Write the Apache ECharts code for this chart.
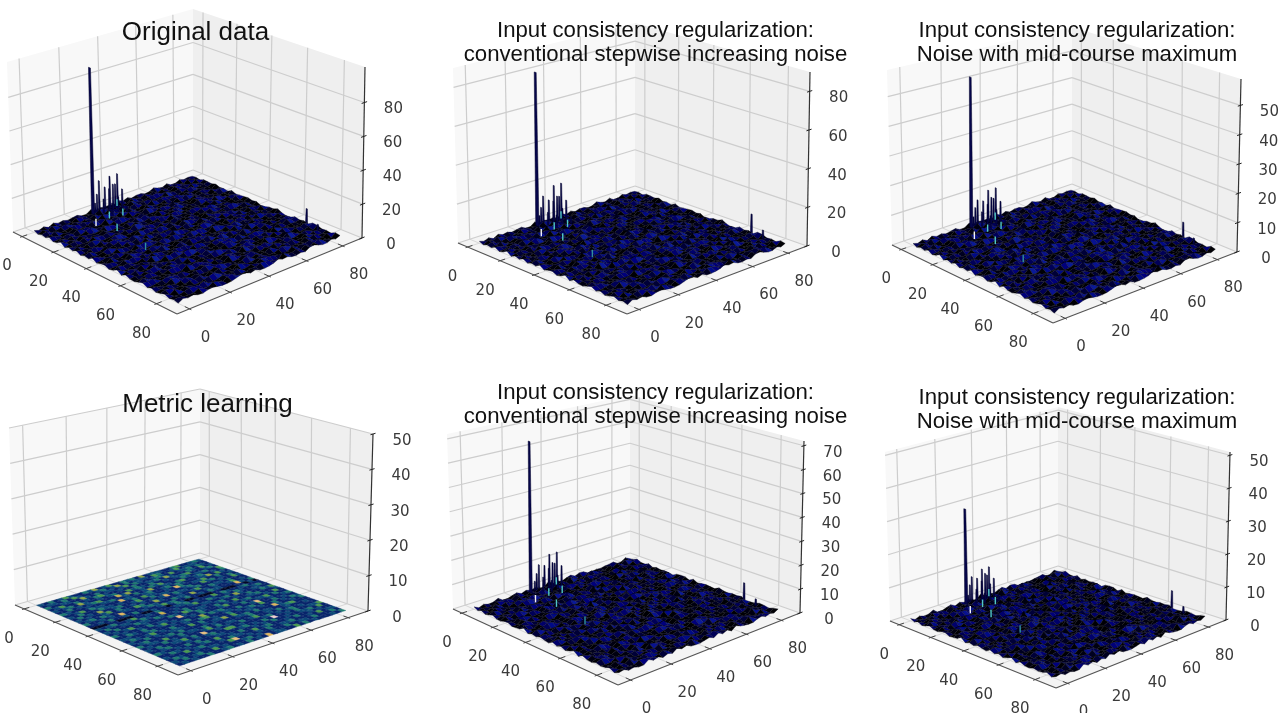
<!DOCTYPE html>
<html><head><meta charset="utf-8">
<style>html,body{margin:0;background:#fff}#main{width:1278px;height:713px;filter:blur(.6px)}</style>
<script src="https://cdn.jsdelivr.net/npm/echarts@6/dist/echarts.min.js"></script>
</head><body><div id="main"></div>
<script>
const xTicks=[0,20,40,60,80];
const yTicks=[0,20,40,60,80];
const zTicks1=[0,20,40,60,80];
const zTicks2=[0,20,40,60,80];
const zTicks3=[0,10,20,30,40,50];
const zTicks4=[0,10,20,30,40,50];
const zTicks5=[0,10,20,30,40,50,60,70];
const zTicks6=[0,10,20,30,40,50];
const zMax=[101,90,59,50,72,51];
const titles=['Original data','Input consistency regularization:\nconventional stepwise increasing noise','Input consistency regularization:\nNoise with mid-course maximum','Metric learning','Input consistency regularization:\nconventional stepwise increasing noise','Input consistency regularization:\nNoise with mid-course maximum'];
// surface heights, read as levels on an 85 x 85 field (rows = x, columns = y)
const surfaceTop=[
'415062413500714230615144027316005243','052731006423185042007316250413620514',
'360148250317006425193004561207341062','127004635210847001362450019425307316',
'540316002745130628004173652001480235','003527461008352064117300425716023104',
'261400593120476003285014006372145007','714053201864002537100462831005240613',
'035260417003152849006214730056120384','402108536241007315620048013275406012',
'160375002514398001462570023104186027','523016048700214635009312465001720453',
'004612573100846205137004026593100264','371050264395001472806153002741460105',
'120483015260734001529640071203584016','650207431008125460037018246350002713',
'014362008574130296400125370648021305','307105246001483750012694003152706420',
'452018630472501003867214005136024071','001746250139006243150087320461500324',
'263500417520038164702100549230176004','710324096103645002381460172005403618',
'045162300748210573004926301854002163','526007341002695130476001283047150240',
'130458016372004810265739000416203571','004613275006143920058102467300152846',
'381200564710032486100375142609400213','657023100846251003724580013062741005',
'102475360014703165209430086215004372','430186002537410086032154700329600148',
'015304726100584201647003152480036207','264001538072600314905127204360071533',
'507142003694120750036210483001726104','120365480015237004186530007243510062',
'341006217405800132764009325160482007','063510342001476250013845102067300415'];
const surfaceBottom=[
'504127003615240081304726500213460172','130064528003172460519200374105062843',
'402715006132480073100526431006142057','016300472584100235647001360258014203',
'273140058602317004051283460017306452','500426310047185302004673100852041136',
'134007265301004826137005420163728001','061582403170236004519200371450026314',
'320004617528001463002746150307184502','415730126003594102380016524700261043',
'007261045380012673504100836215400172','146300572104836005120473006234501780',
'253014006427150938004126570031462005','700582314006235014706390142500318426',
'012476003165004721530068412003574106','384100526730148002653100457206013842',
'105263407002591346004280173650024107','460017352814006205731400628103475002',
'231504006372010458160237004519200364','006143725004368102500741263810047215',
'572300148160253407008315400726035104','103465002718004532096100473205186403',
'420076135002641703185400362071504128','051237406501382004610753200148362005',
'306100572483001264730095142006135074','714052301062745810003264170580230416',
'002386140570320146907001352461008235','523140076243001584316200700413526017',
'160407253108640025370184603125004372','048215006731250403100697240016381502',
'375001428060317526001402853170460213','100642350186402003751260034582017306',
'216073104528003674100513620470018245','504280367001145006328047105236400713',
'032116540372600281054730016208345106','461300725041836100240615073100462538'];
const surfaceMetric=[
'213124211325124113231512221134112321','122131421112312513122214311241222113',
'311221152131221241321123214122313212','124113121342112113112231521113214121',
'212315211212311423213112122341112312',
'113121234111625112132411113212231141','321112112231121312511221341123112132',
'112413221117221123112313211122514211','213111322121131422112173112241131122',
'131215112311241131221112311423121312','212112413112121212713221231111211423',
'123132112214311521112112411322131112','311212171111232111322151121211241213',
'112131121312112423113112132211172131','000110001100211013200100011000110201',
'212311241121311122312111413211231112','131122113211611211241132112132112311',
'213111322132112131112211231521122113','121241121111321431221123112113113242',
'312112131221182113211312141122311121','113213112412111213111241212311121413',
'221112311121231151323111131122413112','132124121311211341112213112811211231',
'211312112221413112113121231411312112','123111231311112122514112212113121321',
'312214113122131211112231311172112131','121131212111241312211131122112341112',
'213112241318112121131241121312111212','112311121212311441211112312123121113',
'321121313111221112312131911213112241','113212112314112131121213112112231412',
'211141231112132211412311121311212113','132112112211481121213112231112141221',
'213123114121112312112113112213111312','121211311231213121712211413121112131',
'112131221113121211231121312181211232'];
const noiseUnit=[.26,.25,.165,.02,.2,.15];
// sharp spikes: x, y, height (the tall spike is the last of each list)
const peaks1=[[3,29,7],[6,31,10],[9,33,8],[2,32,19],[6,34,15],[3,30,12],[8,37,10],[4,36,21],[5,38,16],[4,40,21],[7,40,13],[6,36,17],[11,39,5],[2,35,14],[68,84,10],[76,82,5],[4,27,90]];
const peaks2=[[3,29,6],[6,31,8],[9,33,7],[2,32,15],[6,34,13],[3,30,10],[8,37,9],[4,36,20],[5,38,14],[4,40,20],[7,40,12],[6,36,15],[11,39,5],[2,35,12],[68,84,11],[76,82,6],[4,27,82]];
const peaks3=[[3,29,4],[6,31,6],[9,33,5],[2,32,9],[6,34,8],[3,30,7],[8,37,6],[4,36,12],[5,38,9],[4,40,12],[7,40,8],[6,36,10],[11,39,3],[2,35,8],[68,84,6],[76,82,3],[4,27,53]];
const peaks5=[[3,29,5],[6,31,7],[9,33,6],[2,32,11],[6,34,10],[3,30,8],[8,37,7],[4,36,15],[5,38,11],[4,40,15],[7,40,10],[6,36,12],[11,39,4],[2,35,10],[68,84,8],[76,82,4],[4,26,65]];
const peaks6=[[3,29,3],[6,31,5],[9,33,4],[2,32,8],[6,34,7],[3,30,6],[8,37,6],[4,36,10],[5,38,8],[4,40,10],[7,40,7],[6,36,9],[11,39,3],[2,35,7],[68,84,6],[76,82,3],[4,27,30]];
const fleckSpots=[[15.6,19],[13.6,27.6],[25,22],[6,38],[15,33.5],[46,18.5]];
const fleckColors=['#f4f4f4','#4fc8c8','#4fc8c8','#4fc8c8','#4fc8c8','#2f8f9f'];
const fleckTop=[3,2.7,1.8,0,2.2,1.6];
const darkPalette=['#000004','#000010','#000020','#000038','#000058','#00006c','#00007c','#000a88','#081290','#0a1a98'];
const metricPalette=['#020824','#07246a','#0d4a78','#1f7a70','#4a9a50','#90a848','#c8b050','#e0b860','#e8c080','#f0d0d0'];
// panel frames on the page: floor corners then top corners, left/bottom/right/back
const floors=[
[[13,232],[177,314],[362,238],[193,170]],[[458,243],[627,314],[807,246],[635,186]],[[892,245],[1053,323],[1237,252],[1072,184]],
[[15,605],[178,675],[368,611],[200,553]],[[453,609],[618,685],[800,613],[630,553]],[[890,621],[1056,688],[1226,620],[1058,566]]];
const tops=[
[[7,62],[176,127],[365,67],[193,9]],[[453,68],[626,127],[810,72],[635,23]],[[887,70],[1052,136],[1241,79],[1072,27]],
[[9,428],[177,490],[373,434],[200,389]],[[447,434],[617,498],[804,441],[630,395]],[[885,452],[1055,508],[1230,452],[1058,407]]];
const titlePos=[[190.5,16,26],[650.5,14,22.2],[1072,14,22.2],[202.5,388,26],[650.5,376,22.2],[1072,381,22.2]];
const axisLo=-6,axisHi=91,fieldSize=85;
const FONT='"Liberation Sans",Arial,sans-serif',TICK='"DejaVu Sans",sans-serif';

function quadMap(q){
  const [[x0,y0],[x1,y1],[x2,y2],[x3,y3]]=q;
  const dx1=x1-x2,dx2=x3-x2,sx=x0-x1+x2-x3,dy1=y1-y2,dy2=y3-y2,sy=y0-y1+y2-y3;
  const den=dx1*dy2-dx2*dy1,g=(sx*dy2-dx2*sy)/den,h=(dx1*sy-sx*dy1)/den;
  const a=x1-x0+g*x1,b=x3-x0+h*x3,d=y1-y0+g*y1,e=y3-y0+h*y3;
  return (s,t)=>{const w=g*s+h*t+1;return [(a*s+b*t+x0)/w,(d*s+e*t+y0)/w];};
}
function makeProjector(p){
  const f=quadMap(floors[p]),u=quadMap(tops[p]),span=axisHi-axisLo;
  return (x,y,z)=>{
    const s=(x-axisLo)/span,t=(y-axisLo)/span,k=z/zMax[p],A=f(s,t),B=u(s,t);
    return [A[0]+(B[0]-A[0])*k,A[1]+(B[1]-A[1])*k];
  };
}
const zTickSets=[zTicks1,zTicks2,zTicks3,zTicks4,zTicks5,zTicks6];
const surfaces=[surfaceTop,surfaceTop,surfaceTop,surfaceMetric,surfaceBottom,surfaceBottom];
const peakSets=[peaks1,peaks2,peaks3,[],peaks5,peaks6];
const series=[];
for(let p=0;p<6;p++){
  const P=makeProjector(p),zm=zMax[p],lo=axisLo,hi=axisHi,items=[];
  const C=(api,q)=>api.coord(q);
  const poly=(pts,fill)=>({kind:'poly',pts,fill});
  const line=(a,b,color,w)=>({kind:'line',a,b,color,w});
  const text=(at,dx,dy,s)=>({kind:'text',at,dx,dy,s});
  items.push(poly([P(lo,lo,0),P(hi,lo,0),P(hi,hi,0),P(lo,hi,0)],'#f4f4f4'));
  items.push(poly([P(lo,lo,0),P(lo,hi,0),P(lo,hi,zm),P(lo,lo,zm)],'#f8f8f8'));
  items.push(poly([P(lo,hi,0),P(hi,hi,0),P(hi,hi,zm),P(lo,hi,zm)],'#efefef'));
  const grid='#cdcdcd';
  xTicks.forEach(t=>{items.push(line(P(t,lo,0),P(t,hi,0),'#d8d8d8',1));items.push(line(P(t,hi,0),P(t,hi,zm),grid,1.2));});
  yTicks.forEach(t=>{items.push(line(P(lo,t,0),P(hi,t,0),'#d8d8d8',1));items.push(line(P(lo,t,0),P(lo,t,zm),grid,1.2));});
  zTickSets[p].forEach(t=>{items.push(line(P(lo,lo,t),P(lo,hi,t),grid,1.2));items.push(line(P(lo,hi,t),P(hi,hi,t),grid,1.2));});
  items.push(line(P(lo,lo,0),P(hi,lo,0),'#555',1.2));
  items.push(line(P(hi,lo,0),P(hi,hi,0),'#555',1.2));
  items.push(line(P(hi,hi,0),P(hi,hi,zm),'#333',1.2));
  xTicks.forEach(t=>{items.push(line(P(t,lo-1,0),P(t,lo+2.5,0),'#444',1));items.push(text(P(t,lo,0),-15,30,String(t)));});
  yTicks.forEach(t=>{items.push(line(P(hi+1,t,0),P(hi-2.5,t,0),'#444',1));items.push(text(P(hi,t,0),16,29,String(t)));});
  zTickSets[p].forEach(t=>{items.push(line(P(hi,hi-1.5,t),P(hi,hi+1.5,t),'#222',1));items.push(text(P(hi,hi,t),29,7,String(t)));});
  series.push({type:'custom',coordinateSystem:'cartesian2d',silent:true,animation:false,clip:false,progressive:0,
    data:items.map((_,k)=>[k]),
    renderItem:(params,api)=>{
      const o=items[api.value(0)];
      if(o.kind==='poly')return {type:'polygon',shape:{points:o.pts.map(q=>C(api,q))},style:{fill:o.fill}};
      if(o.kind==='line'){const a=C(api,o.a),b=C(api,o.b);return {type:'line',shape:{x1:a[0],y1:a[1],x2:b[0],y2:b[1]},style:{stroke:o.color,lineWidth:o.w}};}
      const q=C(api,o.at);
      return {type:'text',style:{x:q[0]+o.dx,y:q[1]+o.dy,text:o.s,fill:'#3a3a3a',fontSize:15,fontFamily:TICK,textAlign:'center',textVerticalAlign:'middle'}};
    }});
  // surface, painted from the back corner towards the viewer
  const rows=surfaces[p],n=rows.length,step=fieldSize/(n-1),unit=noiseUnit[p];
  const pal=p===3?metricPalette:darkPalette;
  const H=(i,j)=>(+rows[i][j])*unit;
  const cells=[];
  for(let i=0;i<n-1;i++)for(let j=n-2;j>=0;j--)cells.push([i,j]);
  series.push({type:'custom',coordinateSystem:'cartesian2d',silent:true,animation:false,clip:false,progressive:0,
    data:cells,
    renderItem:(params,api)=>{
      const i=api.value(0),j=api.value(1);
      const pts=[[i,j],[i+1,j],[i+1,j+1],[i,j+1]].map(c=>api.coord(P(c[0]*step,c[1]*step,H(c[0],c[1]))));
      const col=pal[+rows[i][j]];
      return {type:'polygon',shape:{points:pts},style:{fill:col,stroke:p===3?col:'rgba(0,0,10,.55)',lineWidth:p===3?.4:.5}};
    }});
  // spikes
  const peakList=peakSets[p];
  series.push({type:'custom',coordinateSystem:'cartesian2d',silent:true,animation:false,clip:false,progressive:0,
    data:peakList,
    renderItem:(params,api)=>{
      const x=api.value(0),y=api.value(1),z=api.value(2),w=params.dataIndex===peakList.length-1?1:.55,base=6*unit;
      const pts=[P(x-w,y,base),P(x-w*.6,y,z),P(x+w*.6,y,z),P(x+w,y,base)].map(q=>api.coord(q));
      return {type:'polygon',shape:{points:pts},style:{fill:'#05054a',stroke:'#000028',lineWidth:.5}};
    }});
  if(p!==3)series.push({type:'custom',coordinateSystem:'cartesian2d',silent:true,animation:false,clip:false,progressive:0,
    data:fleckSpots,
    renderItem:(params,api)=>{
      const a=api.coord(P(api.value(0),api.value(1),fleckTop[p])),b=api.coord(P(api.value(0),api.value(1),fleckTop[p]*2.4));
      return {type:'line',shape:{x1:a[0],y1:a[1],x2:b[0],y2:b[1]},style:{stroke:fleckColors[params.dataIndex],lineWidth:1.4}};
    }});
}
const chart=echarts.init(document.getElementById('main'),null,{renderer:'canvas'});
chart.setOption({
  animation:false,backgroundColor:'#fff',
  grid:{left:0,right:0,top:0,bottom:0,containLabel:false},
  xAxis:{type:'value',min:0,max:1278,show:false},
  yAxis:{type:'value',min:0,max:713,inverse:true,show:false},
  title:titles.map((t,k)=>({text:t,left:titlePos[k][0],top:titlePos[k][1],textAlign:'center',
    textStyle:{fontFamily:FONT,fontWeight:'normal',fontSize:titlePos[k][2],lineHeight:24,color:'#111'}})),
  series
});
</script></body></html>
